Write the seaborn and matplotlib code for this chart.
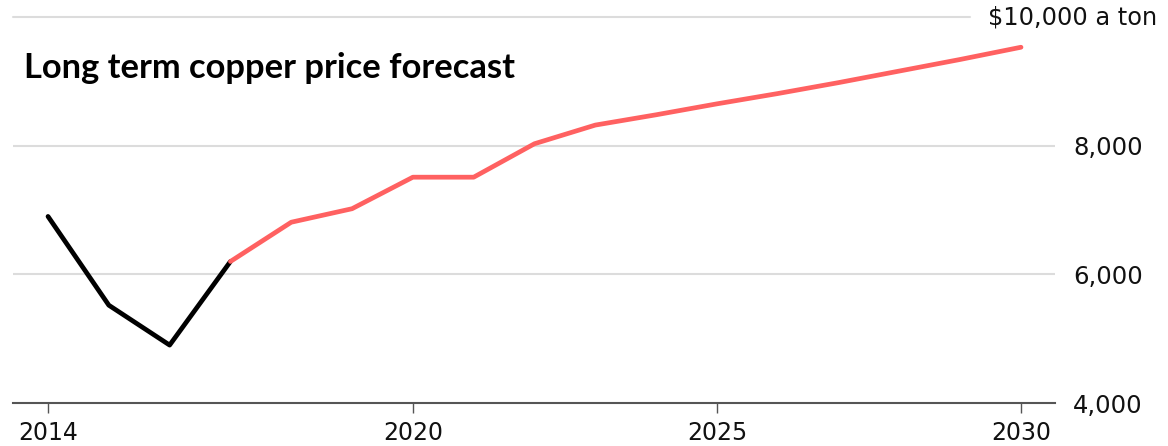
import matplotlib
matplotlib.use("Agg")
import matplotlib.pyplot as plt
import matplotlib.transforms as mtransforms
import seaborn as sns
import pandas as pd

# Historical prices (USD per ton)
hist_years = [2014, 2015, 2016, 2017]
hist_prices = [6900, 5520, 4900, 6200]

# Forecast prices (USD per ton)
fc_years = [2017, 2018, 2019, 2020, 2021, 2022, 2023, 2024, 2025, 2026, 2027, 2028, 2029, 2030]
fc_prices = [6200, 6810, 7020, 7510, 7510, 8030, 8320, 8480, 8650, 8810, 8980, 9160, 9340, 9530]

x_ticks = [2014, 2020, 2025, 2030]
y_ticks = [4000, 6000, 8000, 10000]
y_labels = ["4,000", "6,000", "8,000", "$10,000 a ton"]
title = "Long term copper price forecast"

hist = pd.DataFrame({"year": hist_years, "price": hist_prices})
fc = pd.DataFrame({"year": fc_years, "price": fc_prices})

sns.set_theme(style="white")
plt.rcParams["font.family"] = ["DejaVu Sans"]
LABEL_FONT = ["DejaVu Sans"]

W, H = 1168, 446
fig = plt.figure(figsize=(W / 100, H / 100), dpi=100)
left, right, bottom, top = 13, 1055, 403, 17
ax = fig.add_axes([left / W, 1 - bottom / H, (right - left) / W, (bottom - top) / H])

x0 = 2014 - (48 - left) / 60.8
x1 = 2030 + (right - 1021) / 60.8
ax.set_xlim(x0, x1)
ax.set_ylim(4000, 10000)

# Horizontal gridlines; the top one stops short of its longer label
grid_kw = dict(color="#dcdcdc", linewidth=1.5, zorder=0)
ax.axhline(6000, **grid_kw)
ax.axhline(8000, **grid_kw)
ax.axhline(10000, xmax=(970 - left) / (right - left), clip_on=False, **grid_kw)

sns.lineplot(data=hist, x="year", y="price", ax=ax, color="#000000",
             linewidth=3.4, clip_on=False, zorder=3)
sns.lineplot(data=fc, x="year", y="price", ax=ax, color="#ff6161",
             linewidth=3.4, clip_on=False, zorder=3)

for s in ["top", "left", "right"]:
    ax.spines[s].set_visible(False)
ax.spines["bottom"].set_color("#555555")
ax.spines["bottom"].set_linewidth(1.5)

ax.set_xticks(x_ticks)
ax.set_xticklabels([str(t) for t in x_ticks], family=LABEL_FONT)
ax.tick_params(axis="x", direction="out", length=7, width=1.0, color="#555555",
               labelsize=17, labelcolor="#111111", pad=6, bottom=True)

# Right-hand value labels; the top one sits further left, past the short gridline
ax.yaxis.tick_right()
ax.set_yticks(y_ticks[:-1])
ax.set_yticklabels(y_labels[:-1], family=LABEL_FONT)
ax.tick_params(axis="y", length=0, labelsize=17.5, labelcolor="#111111", pad=13)
top_tr = mtransforms.blended_transform_factory(fig.transFigure, ax.transData)
ax.text(988 / W, y_ticks[-1], y_labels[-1], transform=top_tr, fontsize=17.3,
        family=LABEL_FONT, color="#111111", ha="left", va="center", clip_on=False)

ax.set_xlabel("")
ax.set_ylabel("")

fig.text(24 / W, 1 - 68 / H, title, fontsize=24.8, fontweight="bold",
         family=["Lato", "DejaVu Sans"], color="#000000", va="center", ha="left")

fig.savefig("out.png", dpi=100)
